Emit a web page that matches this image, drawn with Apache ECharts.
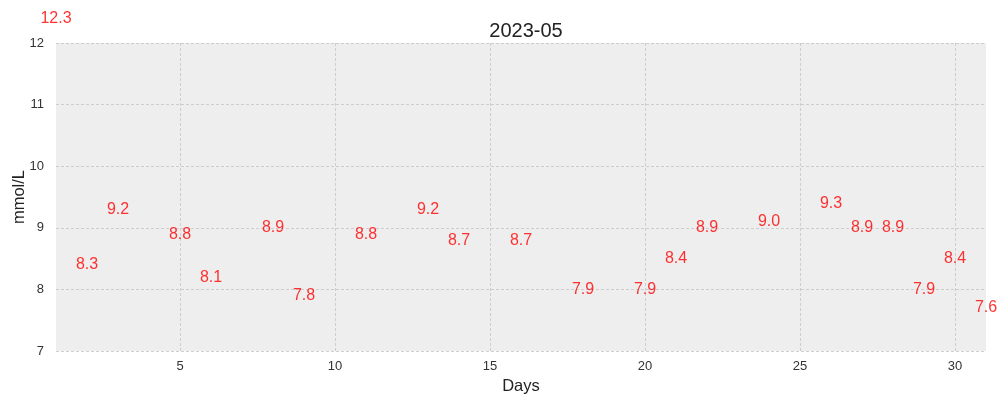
<!DOCTYPE html>
<html>
<head>
<meta charset="utf-8">
<script src="https://cdn.jsdelivr.net/npm/echarts@6/dist/echarts.min.js"></script>
<style>
  html,body{margin:0;padding:0;background:#fff;}
  #chart{width:1007px;height:403px;}
</style>
</head>
<body>
<div id="chart"></div>
<script>
  // days of the month that have a reading, and the reading (mmol/L)
  var days=[1,2,3,5,6,8,9,11,13,14,16,18,20,21,22,24,26,27,28,29,30,31]
  var values=[12.3,8.3,9.2,8.8,8.1,8.9,7.8,8.8,9.2,8.7,8.7,7.9,7.9,8.4,8.9,9.0,9.3,8.9,8.9,7.9,8.4,7.6]
  var xTicks=[5,10,15,20,25,30]
  var yTicks=[7,8,9,10,11,12]

  var font='"Liberation Sans", Arial, sans-serif'
  var points=[]
  days.forEach(function (d,i) {
    points.push([d,values[i]])
  })

  var chart=echarts.init(document.getElementById('chart'))
  var option={
    animation:false,
    title:{
      text:'2023-05',
      left:521,
      textAlign:'center',
      top:16,
      textStyle:{fontFamily:font,fontSize:20,fontWeight:'normal',color:'#222'}
    },
    grid:{
      left:56,
      right:21,
      top:43,
      bottom:52,
      outerBoundsMode:'none',
      containLabel:false,
      show:true,
      backgroundColor:'#eeeeee',
      borderWidth:0
    },
    xAxis:{
      type:'value',
      min:1,
      max:31,
      name:'Days',
      nameLocation:'middle',
      nameGap:27,
      nameMoveOverlap:false,
      nameTextStyle:{fontFamily:font,fontSize:16.5,color:'#222'},
      axisLine:{show:false},
      axisTick:{show:false,customValues:xTicks},
      axisLabel:{customValues:xTicks,fontFamily:font,fontSize:13,color:'#333',margin:9},
      splitLine:{show:true,lineStyle:{color:'#c4c4c4',type:[3,2],width:0.8}}
    },
    yAxis:{
      type:'value',
      min:yTicks[0],
      max:yTicks[yTicks.length-1],
      interval:1,
      name:'mmol/L',
      nameLocation:'middle',
      nameGap:28,
      nameMoveOverlap:false,
      nameTextStyle:{fontFamily:font,fontSize:16.5,color:'#222'},
      axisLine:{show:false},
      axisTick:{show:false},
      axisLabel:{fontFamily:font,fontSize:13,color:'#333',margin:12},
      splitLine:{show:true,lineStyle:{color:'#c4c4c4',type:[3,2],width:0.8}}
    },
    series:[{
      type:'scatter',
      data:points,
      symbolSize:0,
      clip:false,
      label:{
        show:true,
        position:'top',
        distance:-2,
        color:'#ff0000',
        fontFamily:font,
        fontSize:16,
        formatter:function (p) {
          return p.value[1].toFixed(1)
        }
      }
    }]
  }
  chart.setOption(option)
</script>
</body>
</html>
